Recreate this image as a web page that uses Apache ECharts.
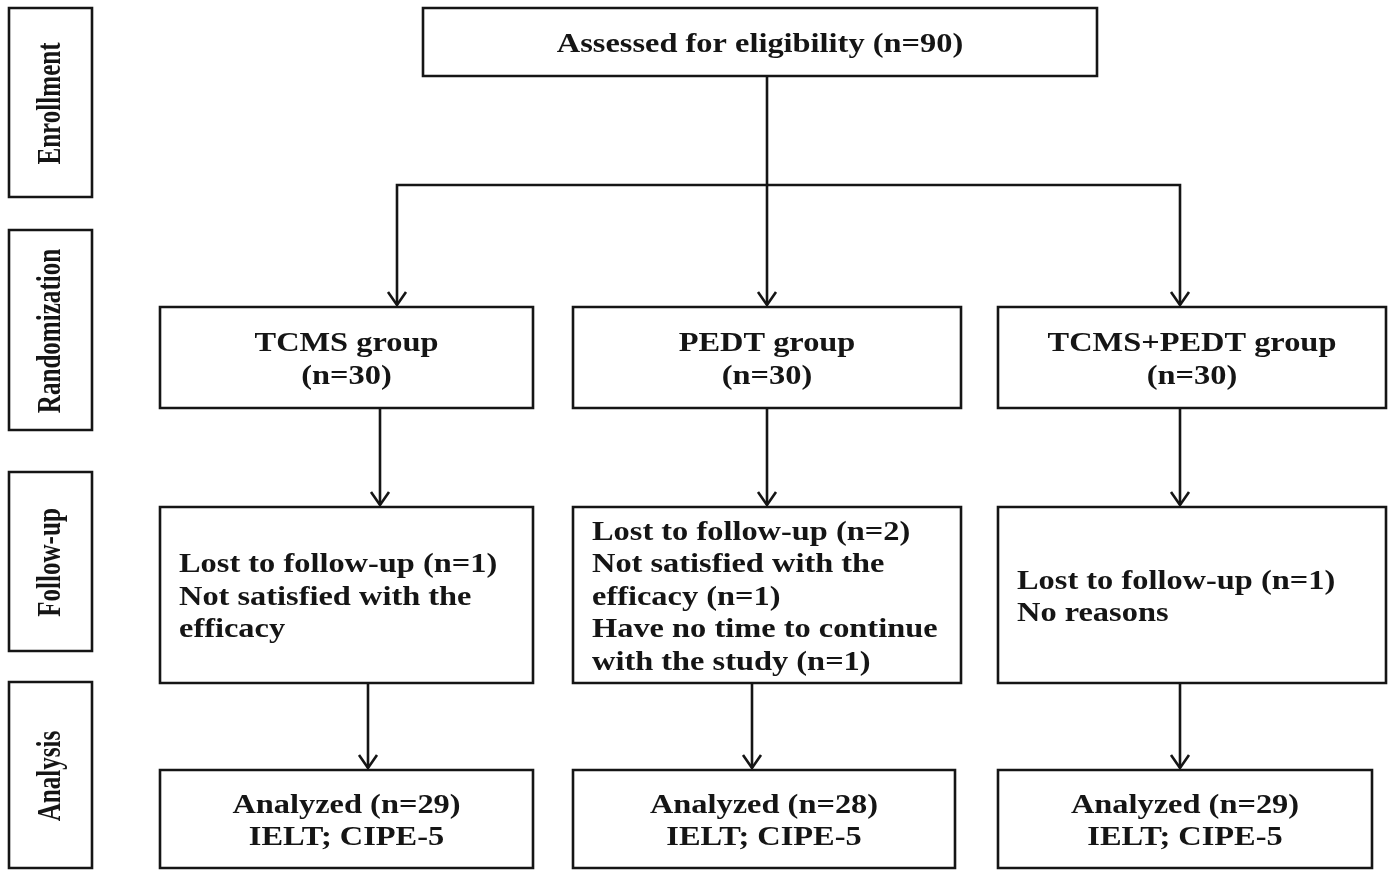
<!DOCTYPE html>
<html>
<head>
<meta charset="utf-8">
<script src="https://cdn.jsdelivr.net/npm/echarts@6/dist/echarts.min.js"></script>
<style>
html,body{margin:0;padding:0;background:#fff;}
#chart{width:1393px;height:871px;}
</style>
</head>
<body>
<div id="chart"></div>
<script>
// ---------- data (text content and counts) ----------
const stageLabels = ['Enrollment', 'Randomization', 'Follow-up', 'Analysis'];
const assessedN = 90;
const groupNames = ['TCMS group', 'PEDT group', 'TCMS+PEDT group'];
const groupN = [30, 30, 30];
const followUpLines = [
  ['Lost to follow-up (n=1)', 'Not satisfied with the', 'efficacy'],
  ['Lost to follow-up (n=2)', 'Not satisfied with the', 'efficacy (n=1)', 'Have no time to continue', 'with the study (n=1)'],
  ['Lost to follow-up (n=1)', 'No reasons']
];
const analyzedN = [29, 28, 29];
const outcomeText = 'IELT; CIPE-5';

// ---------- layout (diagram units = pixels of the reference) ----------
const stageRects = [[9, 8, 92, 197], [9, 230, 92, 430], [9, 472, 92, 651], [9, 682, 92, 868]];
const topRect = [423, 8, 1097, 76];
const groupRects = [[160, 307, 533, 408], [573, 307, 961, 408], [998, 307, 1386, 408]];
const followRects = [[160, 507, 533, 683], [573, 507, 961, 683], [998, 507, 1386, 683]];
const analysisRects = [[160, 770, 533, 868], [573, 770, 955, 868], [998, 770, 1372, 868]];
const connectors = [
  { pts: [[767, 76], [767, 305]], arrow: true },
  { pts: [[397, 305], [397, 185], [1180, 185], [1180, 305]], arrow: true, arrowStart: true },
  { pts: [[380, 408], [380, 505]], arrow: true },
  { pts: [[767, 408], [767, 505]], arrow: true },
  { pts: [[1180, 408], [1180, 505]], arrow: true },
  { pts: [[368, 683], [368, 768]], arrow: true },
  { pts: [[752, 683], [752, 768]], arrow: true },
  { pts: [[1180, 683], [1180, 768]], arrow: true }
];

// ---------- build box list ----------
const boxes = [];
stageLabels.forEach((s, i) => boxes.push({ rect: stageRects[i], lines: [s], kind: 'side' }));
boxes.push({ rect: topRect, lines: ['Assessed for eligibility (n=' + assessedN + ')'], kind: 'center' });
groupNames.forEach((g, i) => boxes.push({ rect: groupRects[i], lines: [g, '(n=' + groupN[i] + ')'], kind: 'center' }));
followUpLines.forEach((l, i) => boxes.push({ rect: followRects[i], lines: l, kind: 'left' }));
analyzedN.forEach((n, i) => boxes.push({ rect: analysisRects[i], lines: ['Analyzed (n=' + n + ')', outcomeText], kind: 'center' }));

const INK = '#151515';
const FONT_MAIN = 'bold 27px "Liberation Serif", "Times New Roman", serif';
const FONT_SIDE = 'bold 33px "Liberation Serif", "Times New Roman", serif';
const LINE_H = 32.5;

function renderBox(params, api) {
  const b = boxes[params.dataIndex];
  const p0 = api.coord([b.rect[0], b.rect[1]]);
  const p1 = api.coord([b.rect[2], b.rect[3]]);
  const children = [{
    type: 'rect',
    shape: { x: p0[0], y: p0[1], width: p1[0] - p0[0], height: p1[1] - p0[1] },
    style: { fill: '#fff', stroke: INK, lineWidth: 2.6 }
  }];
  const cx = (p0[0] + p1[0]) / 2, cy = (p0[1] + p1[1]) / 2;
  if (b.kind === 'side') {
    children.push({
      type: 'text', x: cx + 1, y: cy + 1, rotation: Math.PI / 2, scaleX: 0.76,
      style: { text: b.lines[0], x: 0, y: 0, align: 'center', verticalAlign: 'middle', font: FONT_SIDE, fill: INK }
    });
  } else {
    const n = b.lines.length;
    b.lines.forEach((t, i) => {
      const y = cy + 3 + (i - (n - 1) / 2) * LINE_H;
      const x = b.kind === 'left' ? p0[0] + 19 : cx;
      children.push({
        type: 'text', x: x, y: y, scaleX: 1.2,
        style: { text: t, x: 0, y: 0, align: b.kind === 'left' ? 'left' : 'center', verticalAlign: 'middle', font: FONT_MAIN, fill: INK }
      });
    });
  }
  return { type: 'group', children: children };
}

function arrowHead(tip, from) {
  const dx = tip[0] - from[0], dy = tip[1] - from[1];
  const len = Math.hypot(dx, dy) || 1;
  const ux = dx / len, uy = dy / len;
  const L = 13, W = 9;
  return [
    [tip[0] - ux * L - uy * W, tip[1] - uy * L + ux * W],
    tip,
    [tip[0] - ux * L + uy * W, tip[1] - uy * L - ux * W]
  ];
}

function renderConnector(params, api) {
  const c = connectors[params.dataIndex];
  const pts = c.pts.map(p => api.coord(p));
  const children = [{
    type: 'polyline', shape: { points: pts },
    style: { stroke: INK, lineWidth: 2.6, fill: null }
  }];
  if (c.arrow) {
    children.push({ type: 'polyline', shape: { points: arrowHead(pts[pts.length - 1], pts[pts.length - 2]) },
      style: { stroke: INK, lineWidth: 2.6, fill: null } });
  }
  if (c.arrowStart) {
    children.push({ type: 'polyline', shape: { points: arrowHead(pts[0], pts[1]) },
      style: { stroke: INK, lineWidth: 2.6, fill: null } });
  }
  return { type: 'group', children: children };
}

const chart = echarts.init(document.getElementById('chart'), null, { renderer: 'canvas' });
chart.setOption({
  animation: false,
  backgroundColor: '#fff',
  grid: { left: 0, right: 0, top: 0, bottom: 0 },
  xAxis: { type: 'value', min: 0, max: 1393, show: false },
  yAxis: { type: 'value', min: 0, max: 871, inverse: true, show: false },
  series: [
    {
      type: 'custom', name: 'connectors', clip: false, z: 1,
      renderItem: renderConnector,
      data: connectors.map(c => [c.pts[0][0], c.pts[0][1]])
    },
    {
      type: 'custom', name: 'boxes', clip: false, z: 2,
      renderItem: renderBox,
      data: boxes.map(b => [b.rect[0], b.rect[1]])
    }
  ]
});
</script>
</body>
</html>
